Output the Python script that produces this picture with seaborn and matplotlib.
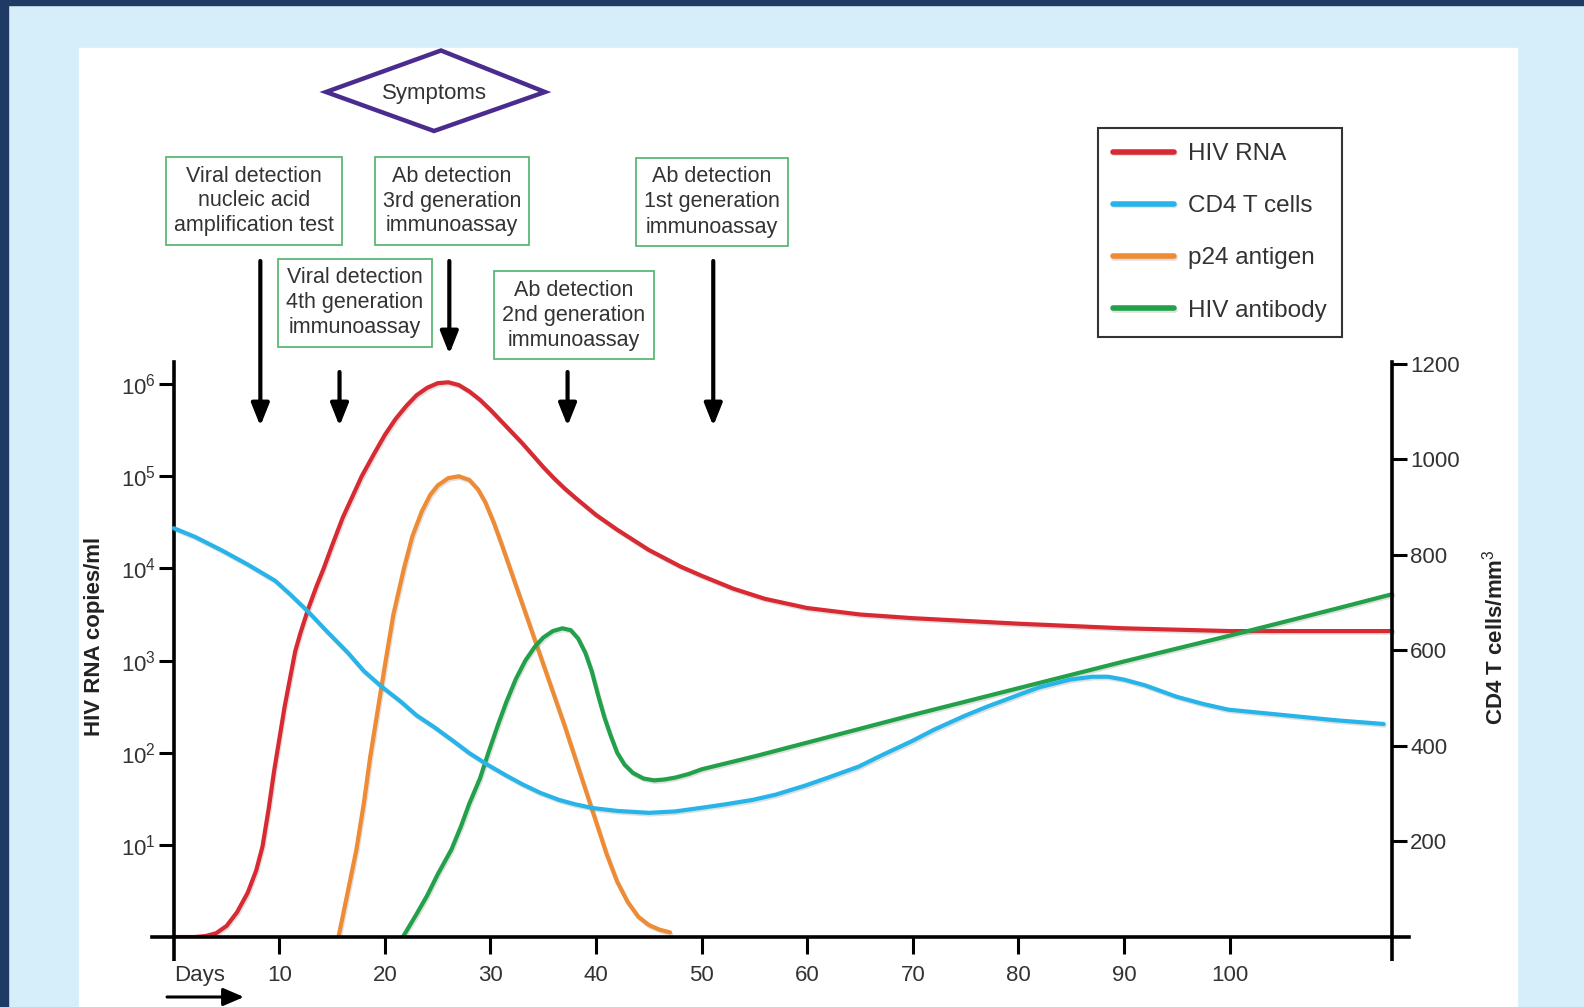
import numpy as np
import pandas as pd
import seaborn as sns
import matplotlib
matplotlib.use('Agg')
import matplotlib.pyplot as plt
import matplotlib.patches as patches
import matplotlib.patheffects as pe
from matplotlib import transforms

# HIV RNA (log10 copies/ml) vs days
rna_days = [0, 2, 3, 4, 5, 6, 7, 7.8, 8.4, 9, 9.5, 10, 10.5, 11, 11.5, 12, 12.7, 13.5, 14.2, 15,
            16, 17, 17.8, 19, 20, 21, 22, 23, 24, 25, 26, 27, 28, 29, 30, 31, 32, 33, 34, 35, 36,
            37, 38, 40, 42, 45, 48, 50, 53, 56, 60, 65, 70, 75, 80, 90, 100, 115.4]
rna_log = [0, 0, 0.01, 0.04, 0.12, 0.27, 0.48, 0.72, 0.98, 1.4, 1.8, 2.15, 2.5, 2.8, 3.1, 3.3,
           3.55, 3.8, 4.0, 4.25, 4.55, 4.8, 5.0, 5.25, 5.45, 5.62, 5.76, 5.88, 5.96, 6.01, 6.02,
           5.99, 5.92, 5.83, 5.72, 5.6, 5.48, 5.36, 5.23, 5.1, 4.98, 4.87, 4.77, 4.58, 4.42, 4.2,
           4.02, 3.92, 3.78, 3.67, 3.57, 3.50, 3.46, 3.43, 3.40, 3.35, 3.32, 3.32]

# p24 antigen (log10)
p24_days = [15.6, 16.5, 17.3, 18, 18.6, 19.3, 20, 20.8, 21.8, 22.6, 23.5, 24.3, 25, 26, 27, 28,
            28.8, 29.5, 30.3, 31, 32, 33, 34, 35, 36, 37, 38, 39, 40, 41, 42, 43, 44, 45, 46, 47]
p24_log = [0, 0.5, 0.95, 1.45, 1.95, 2.45, 2.95, 3.5, 4.0, 4.35, 4.62, 4.8, 4.9, 4.98, 5.0, 4.96,
           4.86, 4.72, 4.5, 4.28, 3.95, 3.62, 3.29, 2.96, 2.63, 2.3, 1.95, 1.6, 1.25, 0.9, 0.6,
           0.38, 0.22, 0.13, 0.08, 0.05]

# HIV antibody (log10)
ab_days = [21.7, 23, 24, 25, 26.3, 27.2, 28, 29, 29.8, 30.7, 31.5, 32.4, 33.3, 34.2, 35, 35.9,
           36.8, 37.6, 38.3, 39, 39.6, 40.2, 40.8, 41.4, 42, 42.7, 43.5, 44.5, 45.5, 46.5, 47.5,
           48.8, 50, 55, 60, 70, 80, 90, 100, 110, 115.4]
ab_log = [0, 0.25, 0.45, 0.68, 0.95, 1.2, 1.45, 1.72, 2.0, 2.3, 2.55, 2.8, 3.0, 3.15, 3.25, 3.32,
          3.35, 3.33, 3.24, 3.08, 2.88, 2.62, 2.38, 2.18, 2.0, 1.87, 1.78, 1.72, 1.70, 1.71, 1.73,
          1.77, 1.82, 1.96, 2.11, 2.41, 2.70, 2.99, 3.27, 3.56, 3.72]

# CD4 T cells (cells/mm3)
cd4_days = [0, 2, 4.6, 7, 9.6, 11, 12.7, 14.5, 16.5, 18, 19.7, 21.5, 23, 24.7, 26.5, 28, 29.7,
            31.5, 33, 34.7, 36.5, 38, 39.7, 42, 45, 47.5, 49.8, 52, 54.8, 57, 59.8, 62, 64.9, 67,
            69.9, 72, 74.9, 77, 79.9, 82, 84.9, 87, 88.5, 90, 92, 95, 97.5, 99.9, 105, 110, 114.6]
cd4_cells = [856, 838, 809, 780, 746, 718, 682, 640, 595, 557, 524, 493, 464, 439, 410, 385, 361,
             338, 320, 302, 287, 278, 270, 264, 260, 263, 270, 277, 287, 298, 317, 334, 357, 380,
             410, 434, 463, 482, 506, 523, 539, 545, 545, 539, 527, 503, 488, 476, 465, 454, 446]

day_ticks = [10, 20, 30, 40, 50, 60, 70, 80, 90, 100]
rna_ticks = [1e1, 1e2, 1e3, 1e4, 1e5, 1e6]
rna_tick_labels = [r'$\mathregular{10^{%d}}$' % i for i in range(1, 7)]
cd4_ticks = [200, 400, 600, 800, 1000, 1200]

tests = [
    ("Viral detection\nnucleic acid\namplification test", 8.2),
    ("Viral detection\n4th generation\nimmunoassay", 15.7),
    ("Ab detection\n3rd generation\nimmunoassay", 26.1),
    ("Ab detection\n2nd generation\nimmunoassay", 37.3),
    ("Ab detection\n1st generation\nimmunoassay", 51.1),
]

sns.set_theme(style='white')
plt.rcParams['font.family'] = ['Liberation Sans', 'DejaVu Sans']
plt.rcParams['mathtext.fontset'] = 'custom'
plt.rcParams['mathtext.rm'] = 'Liberation Sans'
plt.rcParams['mathtext.it'] = 'Liberation Sans:italic'
plt.rcParams['mathtext.bf'] = 'Liberation Sans:bold'
plt.rcParams['lines.solid_joinstyle'] = 'round'
plt.rcParams['lines.solid_capstyle'] = 'round'

W, H = 1584, 1007
fig = plt.figure(figsize=(W / 100, H / 100), dpi=100)
fig.patch.set_facecolor('#d5eefa')

def fx(px):
    return px / W

def fy(py):
    return 1 - py / H

# background panels
fig.patches.append(patches.Rectangle((0, 0), fx(8), 1, transform=fig.transFigure,
                                     color='#1f3a64', zorder=-10))
fig.patches.append(patches.Rectangle((0, fy(5)), 1, 5 / H, transform=fig.transFigure,
                                     color='#1f3a64', zorder=-10))
fig.patches.append(patches.Rectangle((fx(79), 0), fx(1517 - 79), fy(48), transform=fig.transFigure,
                                     color='white', zorder=-9))

ax = fig.add_axes([fx(151.6), fy(937), fx(1257.4), 575 / H])
ax.patch.set_alpha(0)
ax.set_yscale('log')

shadow = [pe.SimpleLineShadow(offset=(0.8, -1.2), shadow_color='gray', alpha=0.25), pe.Normal()]
lw = 3.0
c_rna, c_cd4, c_p24, c_ab = '#d82a32', '#27b4e8', '#ee8b35', '#22a04a'

sns.lineplot(x=rna_days, y=10 ** np.array(rna_log), ax=ax, color=c_rna, lw=lw, legend=False,
             estimator=None, label='HIV RNA', path_effects=shadow)
sns.lineplot(x=p24_days, y=10 ** np.array(p24_log), ax=ax, color=c_p24, lw=lw, legend=False,
             estimator=None, label='p24 antigen', path_effects=shadow)
sns.lineplot(x=ab_days, y=10 ** np.array(ab_log), ax=ax, color=c_ab, lw=lw, legend=False,
             estimator=None, label='HIV antibody', path_effects=shadow)

ax.set_xlim(-2.1, 117)
ax.set_ylim(1, 10 ** 6.24)

ax2 = ax.twinx()
ax2.patch.set_alpha(0)
sns.lineplot(x=cd4_days, y=cd4_cells, ax=ax2, color=c_cd4, lw=lw, legend=False,
             estimator=None, label='CD4 T cells', path_effects=shadow)
ax2.set_ylim(0, 1204)
ax.set_xlim(-2.1, 117)

# spines
for s in ['top', 'right']:
    ax.spines[s].set_visible(False)
for s in ['top', 'left', 'bottom']:
    ax2.spines[s].set_visible(False)
ax.spines['left'].set_position(('data', 0))
ax2.spines['right'].set_position(('data', 115.4))
for sp in [ax.spines['left'], ax.spines['bottom'], ax2.spines['right']]:
    sp.set_linewidth(2.6)
    sp.set_color('black')

# ticks
ax.set_xticks(day_ticks)
ax.set_xticklabels([str(d) for d in day_ticks])
ax.set_xticks([0, 115.4], minor=True)
ax.tick_params(axis='x', which='major', direction='out', length=12, width=2.2, color='black',
               labelsize=16, labelcolor='#333333', pad=8, bottom=True)
ax.tick_params(axis='x', which='minor', direction='out', length=17, width=2.6, color='black',
               bottom=True)
ax.set_yticks(rna_ticks)
ax.set_yticklabels(rna_tick_labels)
ax.yaxis.set_minor_locator(matplotlib.ticker.NullLocator())
ax.tick_params(axis='y', which='major', direction='out', length=11, width=2.2, color='black',
               labelsize=16, labelcolor='#333333', pad=2, left=True)
ax2.set_yticks(cd4_ticks)
ax2.set_yticklabels([str(t) for t in cd4_ticks])
ax2.tick_params(axis='y', which='major', direction='out', length=11, width=2.2, color='black',
                labelsize=16, labelcolor='#333333', pad=2, right=True)
ax.set_xlabel('')

ax.set_ylabel('HIV RNA copies/ml', fontsize=16, fontweight='bold', color='#222222')
ax.yaxis.set_label_coords(-0.037, 0.522)
ax2.set_ylabel('CD4 T cells/mm$^3$', fontsize=16, fontweight='bold', color='#222222')
ax2.yaxis.set_label_coords(1.058, 0.521)

trans = transforms.blended_transform_factory(ax.transData, fig.transFigure)

# Days label and arrow
ax.text(0, fy(975), 'Days', transform=trans, ha='left', va='center', fontsize=16, color='#333333')
ax.annotate('', xy=(6.65, fy(997)), xycoords=trans, xytext=(-0.64, fy(997)), textcoords=trans,
            arrowprops=dict(arrowstyle='-|>,head_length=0.7,head_width=0.3', color='black', lw=2.2,
                            mutation_scale=18, shrinkA=0, shrinkB=0), annotation_clip=False)

# test boxes and arrows
box_pos = [(254, 201), (355, 303), (452, 201), (574, 315), (712, 202)]
arrow_y = [(261, 426), (372, 426), (261, 354), (372, 426), (261, 426)]
for (label, day), (bx, by), (y0, y1) in zip(tests, box_pos, arrow_y):
    fig.text(fx(bx), fy(by), label, ha='center', va='center', fontsize=15.5, color='#333333',
             linespacing=1.25,
             bbox=dict(boxstyle='square,pad=0.38', fc='white', ec='#5cb874', lw=1.3))
    ax.annotate('', xy=(day, fy(y1)), xycoords=trans, xytext=(day, fy(y0)), textcoords=trans,
                arrowprops=dict(arrowstyle='-|>,head_length=0.75,head_width=0.3', color='black',
                                lw=3, mutation_scale=18, shrinkA=0, shrinkB=0),
                annotation_clip=False)

# Symptoms diamond
diamond = [(326, 92), (441, 50.5), (545, 92), (434, 131)]
fig.patches.append(patches.Polygon([(fx(x), fy(y)) for x, y in diamond], closed=True,
                                   transform=fig.transFigure, fc='white', ec='#4a2c8f', lw=3.2,
                                   joinstyle='miter', zorder=5))
fig.text(fx(434), fy(93), 'Symptoms', ha='center', va='center', fontsize=16, color='#333333',
         zorder=6)

# legend
h1, l1 = ax.get_legend_handles_labels()
h2, l2 = ax2.get_legend_handles_labels()
hd = dict(zip(l1 + l2, h1 + h2))
order = ['HIV RNA', 'CD4 T cells', 'p24 antigen', 'HIV antibody']
leg = fig.legend([hd[k] for k in order], order, loc='upper left',
                 bbox_to_anchor=(fx(1098), fy(128)), fontsize=17.5, frameon=True, fancybox=False,
                 edgecolor='#333333', framealpha=1, handlelength=2.5, handletextpad=0.6,
                 labelspacing=1.24, borderpad=0.62, borderaxespad=0, labelcolor='#333333')
leg.get_frame().set_linewidth(1.5)
for line in leg.get_lines():
    line.set_linewidth(4)

fig.savefig('out.png', dpi=100)
